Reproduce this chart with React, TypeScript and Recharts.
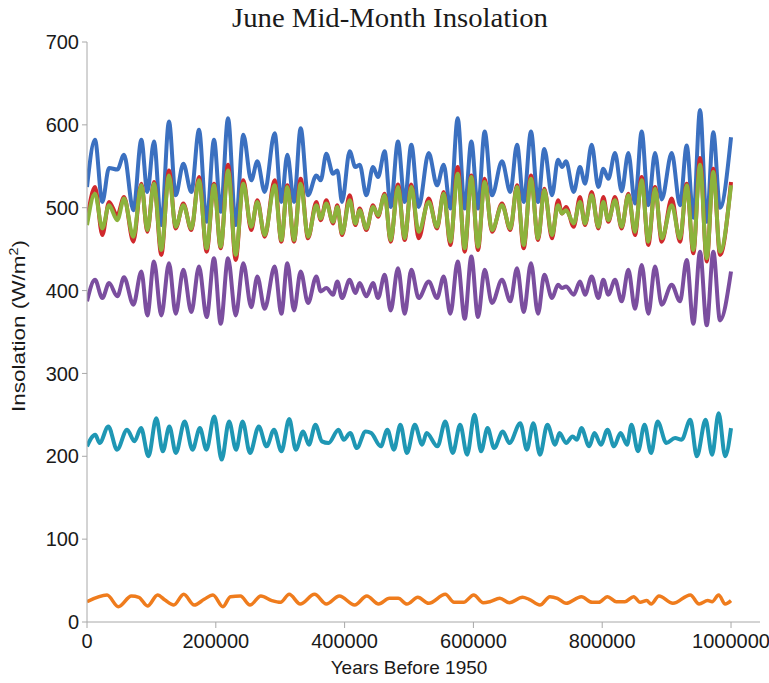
import { Line, LineChart, XAxis, YAxis } from 'recharts';

// turning points shared by the northern-latitude curves (years before 1950)
const years = [
  0, 12400, 23800, 34200, 47100, 57500, 72000, 84400, 93700, 104000,
  115400, 127300, 137700, 149600, 162000, 173900, 185800, 197200, 207600, 219000,
  230900, 242700, 255000, 264500, 275900, 291400, 301800, 311100, 321400, 331800,
  343200, 356100, 362900, 371600, 382000, 388700, 396000, 407900, 416700, 423400,
  433800, 444100, 451900, 462200, 471500, 482900, 493300, 503600, 515000, 530600,
  543500, 553900, 564200, 575600, 586500, 596800, 607100, 617500, 628900, 644400,
  657300, 667700, 678100, 689400, 700300, 710100, 722000, 731400, 737600, 743800,
  755700, 765500, 773300, 783600, 794000, 801700, 809500, 819900, 830200, 840600,
  850900, 861300, 871600, 882000, 892400, 907900, 920800, 931200, 941500, 951900,
  962300, 972500, 982900, 1000000,
];

const blue = [
  525, 582, 507, 548, 546, 564, 497, 582, 519, 580,
  479, 604, 515, 553, 519, 594, 483, 582, 495, 608,
  479, 588, 533, 556, 519, 590, 507, 564, 507, 596,
  515, 539, 533, 565, 541, 545, 507, 568, 549, 552,
  515, 549, 537, 568, 501, 580, 507, 576, 501, 566,
  527, 552, 499, 608, 499, 580, 499, 592, 515, 556,
  519, 576, 507, 592, 507, 571, 515, 558, 549, 556,
  519, 549, 529, 576, 525, 547, 535, 566, 520, 566,
  505, 592, 503, 566, 510, 566, 503, 575, 488, 618,
  483, 591, 500, 585,
];

const red = [
  483, 525, 467, 507, 491, 513, 459, 529, 471, 531,
  443, 545, 475, 505, 473, 537, 447, 529, 451, 552,
  437, 533, 473, 509, 465, 533, 459, 527, 459, 535,
  463, 507, 485, 509, 481, 503, 467, 515, 479, 499,
  473, 503, 489, 517, 459, 528, 461, 528, 463, 511,
  475, 519, 455, 549, 447, 539, 449, 535, 471, 505,
  473, 527, 451, 539, 461, 523, 463, 509, 493, 501,
  477, 513, 479, 519, 475, 513, 483, 513, 475, 517,
  467, 537, 455, 525, 459, 511, 459, 529, 445, 560,
  435, 547, 443, 531,
];

const green = [
  479, 517, 475, 503, 485, 511, 465, 527, 473, 529,
  449, 539, 477, 503, 475, 533, 451, 527, 453, 545,
  443, 529, 477, 507, 467, 527, 461, 525, 461, 529,
  465, 503, 487, 505, 483, 501, 469, 509, 481, 497,
  475, 501, 491, 515, 461, 525, 463, 525, 471, 507,
  477, 517, 459, 541, 451, 537, 453, 531, 473, 503,
  475, 525, 455, 535, 463, 521, 467, 503, 493, 497,
  481, 507, 481, 515, 477, 507, 485, 509, 477, 515,
  471, 533, 459, 523, 463, 503, 463, 527, 449, 552,
  439, 543, 447, 527,
];

const purple = [
  387, 413, 391, 409, 393, 416, 383, 423, 370, 435,
  370, 433, 372, 425, 374, 429, 368, 439, 360, 439,
  370, 433, 380, 417, 378, 429, 372, 433, 376, 423,
  385, 417, 399, 403, 395, 411, 391, 413, 397, 409,
  393, 409, 391, 419, 376, 427, 372, 425, 391, 411,
  391, 417, 372, 435, 366, 441, 368, 425, 385, 413,
  387, 427, 374, 433, 372, 419, 391, 407, 403, 405,
  395, 411, 395, 417, 391, 413, 395, 413, 387, 425,
  378, 431, 372, 429, 383, 407, 387, 437, 360, 447,
  358, 447, 364, 423,
];

const tealYears = [
  0, 12800, 19600, 33100, 46700, 62200, 73700, 83900, 95400, 107600,
  117700, 127900, 138000, 151600, 163800, 175300, 185400, 197600, 209100, 220600,
  231500, 241600, 253100, 266700, 278800, 290400, 301900, 314000, 324200, 335700,
  344500, 354700, 364800, 375000, 390500, 398700, 408800, 419000, 432500, 441300,
  456200, 466400, 476500, 486700, 496800, 509000, 520500, 527300, 544200, 556400,
  567900, 579400, 590200, 601700, 611900, 622000, 632200, 645700, 655900, 672800,
  683000, 693100, 703300, 714800, 727000, 733700, 743900, 754000, 760800, 767600,
  779800, 787900, 798000, 808200, 818300, 828500, 838600, 845400, 855600, 865700,
  875900, 886000, 899600, 913100, 923300, 936800, 947000, 960500, 970600, 980800,
  990900, 1000000,
];

const teal = [
  212, 226, 216, 236, 208, 232, 218, 234, 200, 246,
  206, 236, 204, 242, 208, 234, 208, 248, 196, 242,
  208, 242, 204, 236, 212, 232, 206, 245, 208, 230,
  214, 238, 218, 216, 232, 220, 228, 210, 230, 228,
  212, 232, 208, 238, 204, 238, 214, 228, 212, 242,
  204, 238, 202, 250, 206, 234, 210, 230, 216, 240,
  208, 240, 202, 238, 214, 228, 216, 224, 220, 234,
  212, 228, 214, 232, 212, 228, 214, 238, 206, 238,
  204, 242, 216, 222, 220, 244, 200, 244, 202, 252,
  200, 234,
];

const orangeYears = [
  0, 31100, 48700, 69000, 80500, 94000, 109600, 121100, 134700, 150200,
  166500, 182000, 195600, 211100, 222700, 238200, 253100, 270000, 287000, 300500,
  314000, 331000, 353300, 371600, 391900, 415600, 434500, 452800, 469700, 483300,
  496800, 513700, 530700, 556400, 569900, 584800, 600400, 615300, 625400, 641000,
  655900, 676200, 686400, 703300, 718800, 730400, 743900, 767600, 784500, 794600,
  808200, 821700, 835300, 848800, 859000, 869100, 875900, 888100, 909700, 936800,
  950400, 963900, 970600, 980800, 990900, 1000000,
];

const orange = [
  24.5, 32.6, 18.5, 31.4, 29.8, 19.3, 32.6, 26.5, 20.5, 33.4,
  20.5, 27.4, 32.6, 18.5, 30.6, 31.4, 20.5, 31.4, 25.8, 23.7,
  33.4, 21.7, 33.4, 21.7, 31.4, 20.5, 31.4, 21.7, 28.6, 28.6,
  21.7, 29.8, 22.5, 33.4, 23.7, 23.7, 32.6, 23.3, 24.5, 28.6,
  23.3, 29.8, 27.4, 20.5, 30.6, 28.6, 22.5, 30.6, 23.7, 23.7,
  30.6, 24.5, 24.5, 30.6, 23.7, 25.8, 21.7, 31.4, 22.5, 32.6,
  21.7, 25.8, 24.5, 32.6, 21.7, 25.8,
];

const xTicks = [0, 200000, 400000, 600000, 800000, 1000000];
const yTicks = [0, 100, 200, 300, 400, 500, 600, 700];

const mainData = years.map((year, i) => ({
  year,
  blue: blue[i],
  red: red[i],
  green: green[i],
  purple: purple[i],
}));
const tealData = tealYears.map((year, i) => ({ year, teal: teal[i] }));
const orangeData = orangeYears.map((year, i) => ({ year, orange: orange[i] }));

const sans = '"Liberation Sans", Arial, sans-serif';
const axisGrey = '#a8a8a8';
const tickStyle = { fill: '#1a1a1a', fontSize: 20, fontFamily: sans };

export default function App() {
  return (
    <div
      style={{
        position: 'fixed',
        left: 0,
        top: 0,
        width: 769,
        height: 683,
        background: '#fff',
      }}
    >
      <LineChart
        width={769}
        height={683}
        data={mainData}
        margin={{ top: 42, right: 9, bottom: 31, left: 27 }}
      >
        <XAxis
          dataKey="year"
          type="number"
          domain={[0, 1045000]}
          ticks={xTicks}
          allowDataOverflow
          height={30}
          tickSize={6}
          tickMargin={6}
          stroke={axisGrey}
          tick={tickStyle}
        />
        <YAxis
          type="number"
          domain={[0, 700]}
          ticks={yTicks}
          width={60}
          tickSize={5}
          tickMargin={3}
          stroke={axisGrey}
          tick={tickStyle}
        />
        <Line type="monotone" dataKey="blue" stroke="#3b70c0" strokeWidth={4} dot={false} isAnimationActive={false} />
        <Line type="monotone" dataKey="red" stroke="#d0292c" strokeWidth={4} dot={false} isAnimationActive={false} />
        <Line type="monotone" dataKey="green" stroke="#8cb33c" strokeWidth={4} dot={false} isAnimationActive={false} />
        <Line type="monotone" dataKey="purple" stroke="#7b4e9f" strokeWidth={4} dot={false} isAnimationActive={false} />
        <Line type="monotone" data={tealData} dataKey="teal" stroke="#1f97b4" strokeWidth={4} dot={false} isAnimationActive={false} />
        <Line type="monotone" data={orangeData} dataKey="orange" stroke="#ef7c1d" strokeWidth={3.5} dot={false} isAnimationActive={false} />
      </LineChart>
      <svg
        width={769}
        height={683}
        style={{ position: 'absolute', left: 0, top: 0, pointerEvents: 'none' }}
      >
        <text
          x={390}
          y={27}
          textAnchor="middle"
          fontFamily='"Liberation Serif", "Times New Roman", serif'
          fontSize={27}
          fill="#1a1a1a"
          textLength={316}
          lengthAdjust="spacingAndGlyphs"
        >
          June Mid-Month Insolation
        </text>
        <text
          x={25}
          y={326}
          transform="rotate(-90 25 326)"
          textAnchor="middle"
          fontFamily={sans}
          fontSize={19}
          fill="#1a1a1a"
          textLength={172}
          lengthAdjust="spacingAndGlyphs"
        >
          Insolation (W/m<tspan fontSize={12} dy={-7}>2</tspan>
          <tspan dy={7}>)</tspan>
        </text>
        <text
          x={409}
          y={674}
          textAnchor="middle"
          fontFamily={sans}
          fontSize={19}
          fill="#1a1a1a"
        >
          Years Before 1950
        </text>
      </svg>
    </div>
  );
}
